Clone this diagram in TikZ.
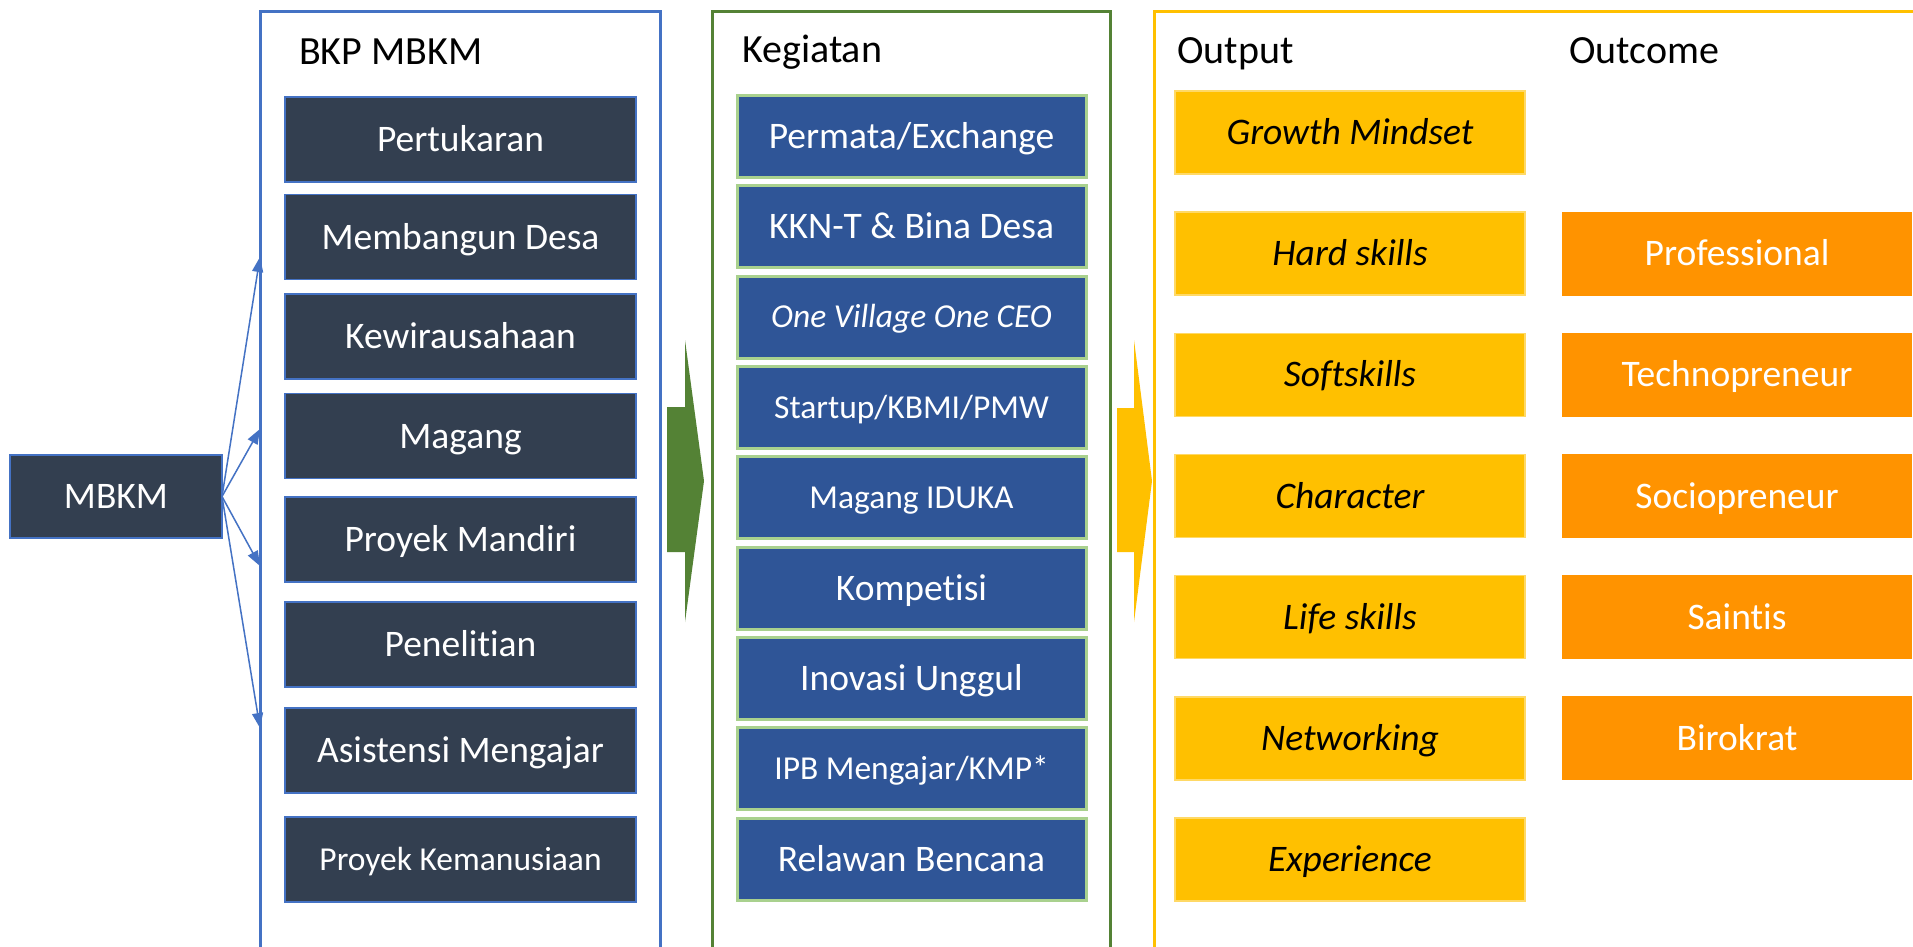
\documentclass[tikz,border=0pt]{standalone}
\usepackage{fontspec}
\setmainfont[Ligatures=NoCommon]{Carlito}
\usetikzlibrary{arrows.meta}
\definecolor{slate}{HTML}{333F50}
\definecolor{bblue}{HTML}{4472C4}
\definecolor{kblue}{HTML}{2F5597}
\definecolor{lgreen}{HTML}{A9D18E}
\definecolor{fgreen}{HTML}{548235}
\definecolor{fyellow}{HTML}{FFC000}
\definecolor{lyellow}{HTML}{FFD966}
\definecolor{forange}{HTML}{FF9300}
\newcommand\fbig{\fontsize{37.5}{42}\selectfont}
\newcommand\fsmall{\fontsize{33.5}{38}\selectfont}
\newcommand\ftitle{\fontsize{40}{46}\selectfont}
\begin{document}
\begin{tikzpicture}[x=1pt,y=-1pt,
  boxbase/.style={inner sep=0pt, outer sep=0pt, font=\fbig, text height=30pt, text depth=6pt},
  smalltext/.style={font=\fsmall, text height=27pt, text depth=5.4pt},
  bkp/.style={boxbase, fill=slate, draw=bblue, line width=1.5pt, text=white, minimum width=351pt, minimum height=85pt},
  keg/.style={boxbase, fill=kblue, draw=lgreen, line width=3pt, text=white, minimum width=349pt, minimum height=82pt},
  outp/.style={boxbase, fill=fyellow, draw=lyellow, line width=1.5pt, text=black, minimum width=350pt, minimum height=83pt, font=\fbig\itshape},
  outc/.style={boxbase, fill=forange, text=white, minimum width=350pt, minimum height=84pt},
  frame/.style={line width=3pt},
  ttl/.style={anchor=base west, inner sep=0pt, font=\ftitle, text=black},
  conn/.style={draw=bblue, line width=1.5pt, -{Triangle[length=15pt,width=11pt]}}
]
\path[use as bounding box, clip] (0,0) rectangle (1913,947);
\fill[white] (0,0) rectangle (1913,947);

% frames
\draw[frame, draw=bblue] (260,12) rectangle (660,1000);
\draw[frame, draw=fgreen] (712,12) rectangle (1110,1000);
\draw[frame, draw=fyellow] (1154,12) rectangle (1960,1000);

% titles
\node[ttl] (tbkp) at (299,65) {BKP MBKM};
\node[ttl] (tkeg) at (742,63) {Kegiatan};
\node[ttl] (tout) at (1177,64) {Output};
\node[ttl] (toutc) at (1569,64) {Outcome};

% MBKM
\node[bkp, minimum width=212pt, minimum height=83pt] (mbkm) at (116,496.5) {MBKM};

% BKP column
\node[bkp] (b1) at (460.5,139.5) {Pertukaran};
\node[bkp] (b2) at (460.5,237) {Membangun Desa};
\node[bkp] (b3) at (460.5,336.5) {Kewirausahaan};
\node[bkp] (b4) at (460.5,436) {Magang};
\node[bkp] (b5) at (460.5,539.5) {Proyek Mandiri};
\node[bkp] (b6) at (460.5,644.5) {Penelitian};
\node[bkp] (b7) at (460.5,750.5) {Asistensi Mengajar};
\node[bkp, smalltext] (b8) at (460.5,859.5) {Proyek Kemanusiaan};

% connectors
\coordinate (t1) at (260,257);
\coordinate (t2) at (260,429);
\coordinate (t3) at (260,566);
\coordinate (t4) at (260,728);
\draw[conn] (mbkm.east) -- (t1);
\draw[conn] (mbkm.east) -- (t2);
\draw[conn] (mbkm.east) -- (t3);
\draw[conn] (mbkm.east) -- (t4);

% Kegiatan column
\node[keg] (k1) at (911.5,136.5) {Permata/Exchange};
\node[keg] (k2) at (911.5,226.8) {KKN-T \& Bina Desa};
\node[keg, smalltext] (k3) at (911.5,317.1) {\itshape One Village One CEO};
\node[keg, smalltext] (k4) at (911.5,407.4) {Startup/KBMI/PMW};
\node[keg, smalltext] (k5) at (911.5,497.7) {Magang IDUKA};
\node[keg] (k6) at (911.5,588.0) {Kompetisi};
\node[keg] (k7) at (911.5,678.3) {Inovasi Unggul};
\node[keg, smalltext] (k8) at (911.5,768.6) {IPB Mengajar/KMP*};
\node[keg] (k9) at (911.5,859) {Relawan Bencana};

% Output column
\node[outp] (o1) at (1350,132.5) {Growth Mindset};
\node[outp] (o2) at (1350,253.7) {Hard skills};
\node[outp] (o3) at (1350,374.8) {Softskills};
\node[outp] (o4) at (1350,496.0) {Character};
\node[outp] (o5) at (1350,617.2) {Life skills};
\node[outp] (o6) at (1350,738.3) {Networking};
\node[outp] (o7) at (1350,859.5) {Experience};

% Outcome column
\node[outc] (c1) at (1737,253.7) {Professional};
\node[outc] (c2) at (1737,374.8) {Technopreneur};
\node[outc] (c3) at (1737,496.0) {Sociopreneur};
\node[outc] (c4) at (1737,617.2) {Saintis};
\node[outc] (c5) at (1737,738.3) {Birokrat};

% block arrows
\fill[fgreen] (667,407) -- (685,407) -- (685,340) -- (704,481) -- (685,622) -- (685,552) -- (667,552) -- cycle;
\fill[fyellow] (1117,408) -- (1134,408) -- (1134,340) -- (1152,481) -- (1134,622) -- (1134,552) -- (1117,552) -- cycle;
\end{tikzpicture}
\end{document}
